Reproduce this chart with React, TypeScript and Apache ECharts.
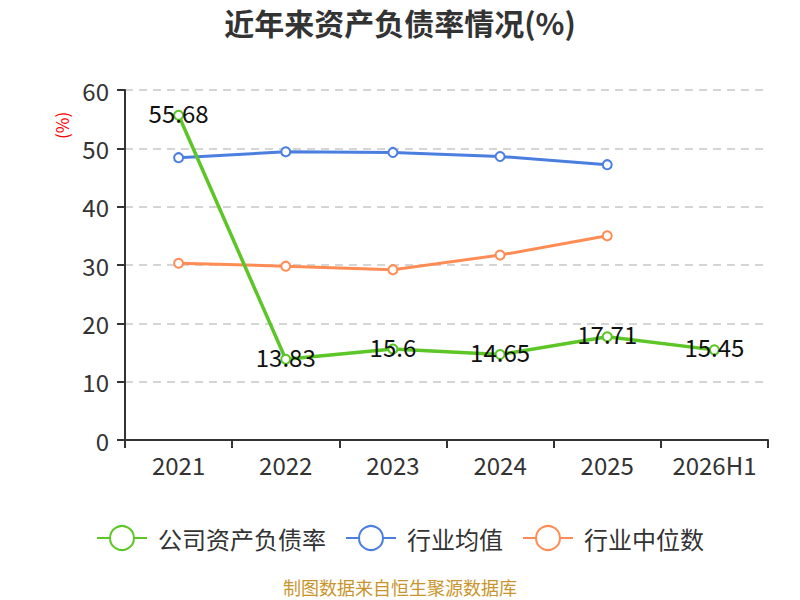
import React, { useEffect, useRef } from "react";
import * as echarts from "echarts";

const categories = ["2021", "2022", "2023", "2024", "2025", "2026H1"];
const companyRate = [55.68, 13.83, 15.6, 14.65, 17.71, 15.45];
const industryAvg = [48.4, 49.4, 49.3, 48.6, 47.2, null];
const industryMedian = [30.3, 29.8, 29.2, 31.7, 35.0, null];

const GREEN = "#5cc626";
const BLUE = "#4a7fe0";
const ORANGE = "#ff8c55";
const FONT = "'Noto Sans CJK SC', 'Noto Sans', sans-serif";

export default function App() {
  const ref = useRef<HTMLDivElement>(null);
  useEffect(() => {
    if (!ref.current) return;
    const chart = echarts.init(ref.current, undefined, { renderer: "svg" });
    chart.setOption({
      animation: false,
      textStyle: { fontFamily: FONT },
      title: {
        text: "近年来资产负债率情况(%)",
        left: "center",
        top: 2,
        textStyle: { fontSize: 30, fontWeight: "bold", color: "#333", fontFamily: FONT },
      },
      grid: { left: 125, right: 32, top: 90, bottom: 160 },
      legend: {
        top: 520,
        left: "center",
        itemWidth: 50,
        itemHeight: 30,
        itemGap: 19,
        textStyle: { fontSize: 24, color: "#333", padding: [0, 0, 0, 6] },
        data: ["公司资产负债率", "行业均值", "行业中位数"],
      },
      graphic: [
        {
          type: "text",
          x: 53,
          y: 139,
          rotation: Math.PI / 2,
          style: { text: "(%)", fill: "red", fontSize: 17, fontFamily: FONT },
        },
        {
          type: "text",
          left: "center",
          top: 578,
          style: { text: "制图数据来自恒生聚源数据库", fill: "#c8952c", fontSize: 18, fontFamily: FONT },
        },
      ],
      xAxis: {
        type: "category",
        data: categories,
        boundaryGap: true,
        axisLine: { lineStyle: { color: "#333", width: 2 } },
        axisTick: { show: true, length: 8, lineStyle: { color: "#333", width: 2 } },
        axisLabel: { fontSize: 24, color: "#333", margin: 12, interval: 0 },
      },
      yAxis: {
        type: "value",
        min: 0,
        max: 60,
        interval: 10,
        axisLine: { show: true, lineStyle: { color: "#333", width: 2 } },
        axisTick: { show: true, length: 8, lineStyle: { color: "#333", width: 2 } },
        axisLabel: { fontSize: 24, color: "#333", margin: 16 },
        splitLine: { lineStyle: { color: "#c8c8c8", type: [8, 6], width: 1.5 } },
      },
      series: [
        {
          name: "公司资产负债率",
          type: "line",
          data: companyRate,
          color: GREEN,
          symbol: "emptyCircle",
          symbolSize: 9,
          lineStyle: { width: 3.5, color: GREEN },
          itemStyle: { color: GREEN, borderWidth: 2 },
          label: {
            show: true,
            position: "inside",
            offset: [0, -3],
            fontSize: 24,
            color: "#111",
            fontFamily: FONT,
          },
          z: 3,
        },
        {
          name: "行业均值",
          type: "line",
          data: industryAvg,
          color: BLUE,
          symbol: "emptyCircle",
          symbolSize: 9,
          lineStyle: { width: 3, color: BLUE },
          itemStyle: { color: BLUE, borderWidth: 2 },
          z: 2,
        },
        {
          name: "行业中位数",
          type: "line",
          data: industryMedian,
          color: ORANGE,
          symbol: "emptyCircle",
          symbolSize: 9,
          lineStyle: { width: 3, color: ORANGE },
          itemStyle: { color: ORANGE, borderWidth: 2 },
          z: 2,
        },
      ],
    });
    return () => chart.dispose();
  }, []);
  return <div ref={ref} style={{ width: 800, height: 600, position: "absolute", left: 0, top: 0 }} />;
}
